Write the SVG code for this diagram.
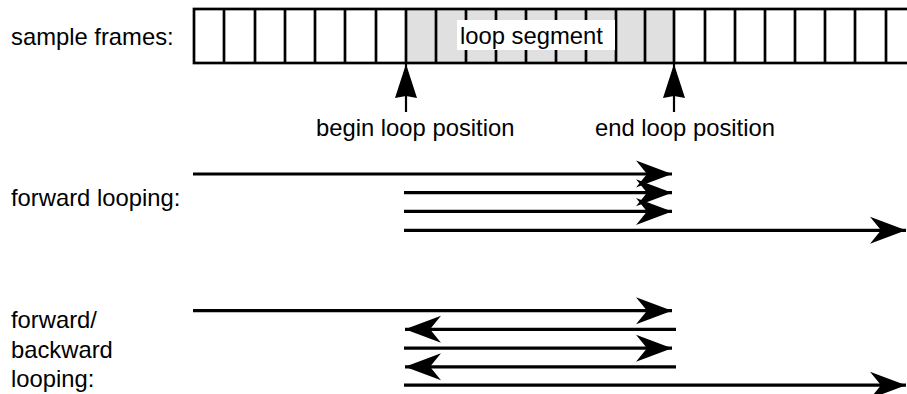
<svg xmlns="http://www.w3.org/2000/svg" width="907" height="394" viewBox="0 0 907 394">
<style>
text{font-family:"Liberation Sans",Arial,sans-serif;font-size:23.8px;fill:#000}
.cell{stroke:#000;stroke-width:2.7;fill:none}
.ln{stroke:#000;stroke-width:3.2;fill:none}
.vl{stroke:#000;stroke-width:2.2;fill:none}
</style>
<defs>
<marker id="ah" markerUnits="userSpaceOnUse" markerWidth="38" markerHeight="30" viewBox="-36 -15 38 30" refX="0" refY="0" orient="auto">
<path d="M0,0 L-36,-13.5 L-25,0 L-36,13.5 Z" fill="#000"/>
</marker>
<marker id="vh" markerUnits="userSpaceOnUse" markerWidth="36" markerHeight="24" viewBox="-35 -12 36 24" refX="0" refY="0" orient="auto">
<path d="M0,0 L-34,-11 L-32,0 L-34,11 Z" fill="#000"/>
</marker>
</defs>
<rect width="907" height="394" fill="#fff"/>
<g id="frames">
<rect x="406" y="9" width="268" height="54" fill="#e0e0e0"/>
<rect class="cell" x="194" y="9" width="730" height="54"/>
<path class="cell" d="M224,9V63M255,9V63M285,9V63M315,9V63M345,9V63M376,9V63M406,9V63M436,9V63M466,9V63M496,9V63M526,9V63M556,9V63M586,9V63M616,9V63M645,9V63M674,9V63M705,9V63M735,9V63M765,9V63M795,9V63M825,9V63M855,9V63M886,9V63"/>
<rect x="457" y="20" width="158" height="30" fill="#fff"/>
<text x="460" y="44">loop segment</text>
</g>
<g id="labels">
<text x="11" y="45">sample frames:</text>
<text x="316" y="136">begin loop position</text>
<text x="595" y="136">end loop position</text>
<text x="11" y="206">forward looping:</text>
<text x="11" y="328">forward/</text>
<text x="11" y="358">backward</text>
<text x="11" y="387">looping:</text>
</g>
<g id="connectors">
<line class="vl" x1="406" y1="112" x2="406" y2="64" marker-end="url(#vh)"/>
<line class="vl" x1="674" y1="112" x2="674" y2="64" marker-end="url(#vh)"/>
<line class="ln" x1="193" y1="174" x2="672" y2="174" marker-end="url(#ah)"/>
<line class="ln" x1="404" y1="192.7" x2="672" y2="192.7" marker-end="url(#ah)"/>
<line class="ln" x1="404" y1="211.4" x2="672" y2="211.4" marker-end="url(#ah)"/>
<line class="ln" x1="404" y1="230.3" x2="906" y2="230.3" marker-end="url(#ah)"/>
<line class="ln" x1="193" y1="310.7" x2="672" y2="310.7" marker-end="url(#ah)"/>
<line class="ln" x1="676" y1="329.3" x2="405" y2="329.3" marker-end="url(#ah)"/>
<line class="ln" x1="404" y1="348.2" x2="672" y2="348.2" marker-end="url(#ah)"/>
<line class="ln" x1="676" y1="366.8" x2="405" y2="366.8" marker-end="url(#ah)"/>
<line class="ln" x1="404" y1="385.2" x2="906" y2="385.2" marker-end="url(#ah)"/>
</g>
</svg>
